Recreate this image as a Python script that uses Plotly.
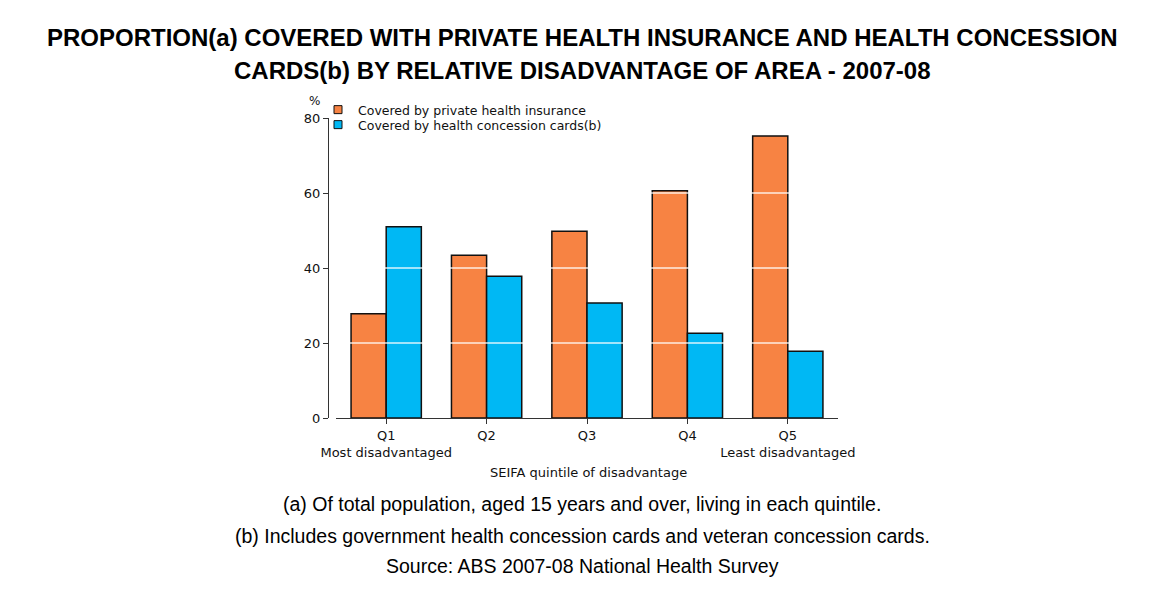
import plotly.graph_objects as go

categories = ["Q1", "Q2", "Q3", "Q4", "Q5"]
tick_labels = ["Q1<br>Most disadvantaged", "Q2", "Q3", "Q4", "Q5<br>Least disadvantaged"]
private_insurance = [27.8, 43.4, 49.8, 60.6, 75.2]
concession_cards = [51.0, 37.8, 30.7, 22.6, 17.8]
series_names = ["Covered by private health insurance", "Covered by health concession cards(b)"]
y_ticks = [0, 20, 40, 60, 80]

title_lines = [
    "PROPORTION(a) COVERED WITH PRIVATE HEALTH INSURANCE AND HEALTH CONCESSION",
    "CARDS(b) BY RELATIVE DISADVANTAGE OF AREA - 2007-08",
]
notes = [
    "(a) Of total population, aged 15 years and over, living in each quintile.",
    "(b) Includes government health concession cards and veteran concession cards.",
    "Source: ABS 2007-08 National Health Survey",
]

W, H = 1157, 595
ORANGE = "#F78343"
BLUE = "#00B8F4"
CHART_FONT = "DejaVu Sans"
TEXT_FONT = "Liberation Sans, Arial"

def px_x(p):
    return p / W

def px_y(p):
    return 1 - p / H

fig = go.Figure()
legend_ids = ["legend", "legend2"]
for vals, col, name, lg in [(private_insurance, ORANGE, series_names[0], legend_ids[0]),
                            (concession_cards, BLUE, series_names[1], legend_ids[1])]:
    fig.add_trace(go.Bar(
        x=categories, y=vals, name=name, showlegend=False,
        marker=dict(color=col, line=dict(color="#111111", width=1.5)),
    ))
    # legend proxies with small square swatches
    fig.add_trace(go.Scatter(
        x=[None], y=[None], mode="markers", name=name, legend=lg,
        marker=dict(symbol="square", size=8, color=col, line=dict(color="#111111", width=1)),
    ))

x_dom = [px_x(336), px_x(838)]
y_dom = [px_y(418), px_y(118)]

legend_style = dict(
    xanchor="left", yanchor="middle",
    font=dict(family=CHART_FONT, size=12.5, color="#111111"),
    bgcolor="rgba(0,0,0,0)", borderwidth=0,
)

fig.update_layout(
    template="none",
    width=W, height=H,
    margin=dict(l=0, r=0, t=0, b=0, autoexpand=False),
    paper_bgcolor="white", plot_bgcolor="white",
    barmode="group", bargap=0.3, bargroupgap=0,
    showlegend=True,
    legend=dict(x=px_x(318), y=px_y(110), **legend_style),
    legend2=dict(x=px_x(318), y=px_y(125), **legend_style),
    xaxis=dict(
        domain=x_dom, type="category", automargin=False,
        tickmode="array", tickvals=categories, ticktext=tick_labels,
        showline=True, linecolor="#333333", linewidth=1,
        ticks="outside", ticklen=5, tickcolor="#333333", tickwidth=1,
        showgrid=False, zeroline=False,
        tickfont=dict(family=CHART_FONT, size=13, color="#111111"),
        anchor="y",
    ),
    yaxis=dict(
        domain=y_dom, range=[0, 80], automargin=False,
        tickmode="array", tickvals=y_ticks,
        showline=True, linecolor="#333333", linewidth=1,
        ticks="outside", ticklen=5, tickcolor="#333333", tickwidth=1,
        showgrid=False, zeroline=False,
        tickfont=dict(family=CHART_FONT, size=13, color="#111111"),
        anchor="free", position=px_x(328),
    ),
)

# white gridlines drawn over the bars
for t in y_ticks[1:-1]:
    fig.add_shape(type="line", xref="paper", yref="y",
                  x0=x_dom[0], x1=x_dom[1], y0=t, y1=t,
                  line=dict(color="rgba(255,255,255,0.85)", width=1.5), layer="above")

annotations = []
for line, yp in zip(title_lines, [37, 70]):
    annotations.append(dict(
        text="<b>" + line + "</b>", x=px_x(582), y=px_y(yp),
        xref="paper", yref="paper", xanchor="center", yanchor="middle",
        showarrow=False, font=dict(family=TEXT_FONT, size=24, color="#000000"),
    ))
for line, yp in zip(notes, [504, 536, 566]):
    annotations.append(dict(
        text=line, x=px_x(582), y=px_y(yp),
        xref="paper", yref="paper", xanchor="center", yanchor="middle",
        showarrow=False, font=dict(family=TEXT_FONT, size=19.5, color="#000000"),
    ))
annotations.append(dict(
    text="SEIFA quintile of disadvantage", x=px_x(588), y=px_y(473),
    xref="paper", yref="paper", xanchor="center", yanchor="middle",
    showarrow=False, font=dict(family=CHART_FONT, size=13, color="#111111"),
))
annotations.append(dict(
    text="%", x=px_x(314), y=px_y(101),
    xref="paper", yref="paper", xanchor="center", yanchor="middle",
    showarrow=False, font=dict(family=CHART_FONT, size=12, color="#111111"),
))
fig.update_layout(annotations=annotations)

fig.write_html("out.html")
